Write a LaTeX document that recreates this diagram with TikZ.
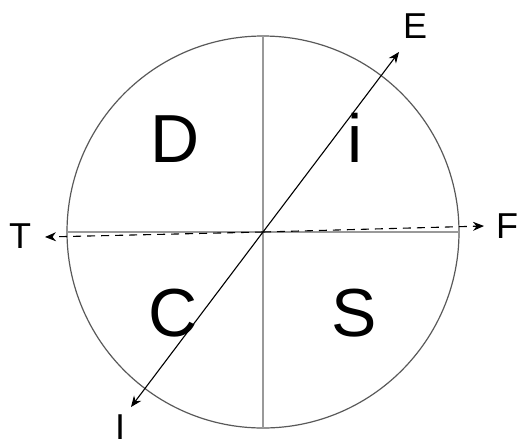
\documentclass[tikz,border=0pt]{standalone}
\usepackage{fontspec}
\setmainfont{Liberation Sans}
\usetikzlibrary{arrows.meta}
\begin{document}
\begin{tikzpicture}[x=1pt,y=-1pt,
  rim/.style={draw=black!65,line width=1.2pt},
  divider/.style={draw=black!40,line width=1.2pt},
  axis/.style={draw=black,line width=1.1pt,-{Stealth[length=11pt,width=9pt]}},
  daxis/.style={axis,dash pattern=on 8pt off 6pt},
  big/.style={font=\fontsize{68}{68}\selectfont,inner sep=0pt},
  lab/.style={font=\fontsize{36}{36}\selectfont,inner sep=0pt}]
\useasboundingbox (0,0) rectangle (519,445);
\coordinate (O) at (263,232);
\draw[rim] (O) circle [radius=196];
\coordinate (top) at (263,36);
\coordinate (bot) at (263,428);
\coordinate (lft) at (67,232);
\coordinate (rgt) at (459,232);
\draw[divider] (top) -- (bot);
\draw[divider] (lft) -- (rgt);
\node[lab] (E) at (415,26) {E};
\node[lab] (I) at (120,427) {I};
\node[lab] (T) at (20,236) {T};
\node[lab] (F) at (507,226) {F};
\coordinate (Etip) at (399,52);
\coordinate (Itip) at (131,407);
\coordinate (Ttip) at (45,237);
\coordinate (Ftip) at (484,226);
\draw[axis] (O) -- (Etip);
\draw[axis] (O) -- (Itip);
\draw[daxis] (O) -- (Ttip);
\draw[daxis] (O) -- (Ftip);
\node[big,anchor=base] (D) at (175,162) {D};
\node[big,anchor=base] (i) at (355,162) {i};
\node[big,anchor=base] (C) at (173,336) {C};
\node[big,anchor=base] (S) at (354,336) {S};
\end{tikzpicture}
\end{document}
